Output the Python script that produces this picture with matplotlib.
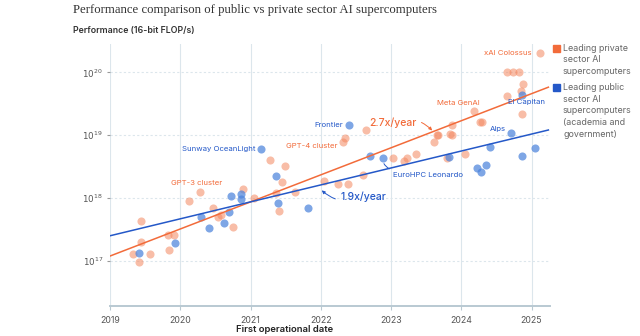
import matplotlib.pyplot as plt
import numpy as np

plt.rcParams['font.family'] = ['Inter', 'DejaVu Sans']

# --- data (first operational date as decimal year, 16-bit FLOP/s) ---
private_year = [2019.445, 2019.445, 2019.327, 2019.407, 2019.563, 2019.819, 2019.905, 2019.839,
                2020.128, 2020.275, 2020.459, 2020.54, 2020.575, 2020.75, 2020.90, 2021.043,
                2021.366, 2021.404, 2021.451, 2021.632, 2021.28, 2021.484, 2022.048, 2022.252,
                2022.39, 2022.607, 2022.347, 2022.314, 2022.65, 2023.026, 2023.19, 2023.225,
                2023.361, 2023.617, 2023.651, 2023.674, 2023.84, 2023.873, 2023.865, 2023.794,
                2024.058, 2024.18, 2024.272, 2024.30, 2024.656, 2024.741, 2024.822, 2024.875,
                2024.647, 2024.855, 2024.861, 2025.121]
private_perf = [4.3e17, 2.0e17, 1.3e17, 9.8e16, 1.3e17, 2.6e17, 2.6e17, 1.5e17,
                9.1e17, 1.25e18, 7.0e17, 5.0e17, 5.4e17, 3.5e17, 1.4e18, 1.0e18,
                1.2e18, 6.3e17, 1.8e18, 1.25e18, 4.0e18, 3.2e18, 1.9e18, 1.7e18,
                1.7e18, 2.3e18, 9.1e18, 7.8e18, 1.2e19, 4.3e18, 3.9e18, 4.3e18,
                5.0e18, 7.9e18, 1.0e19, 1.0e19, 1.05e19, 1.0e19, 1.43e19, 4.4e18,
                5.0e18, 2.45e19, 1.64e19, 1.64e19, 1.0e20, 1.0e20, 1.0e20, 6.6e19,
                4.2e19, 5.0e19, 2.2e19, 2.0e20]

public_year = [2019.407, 2019.929, 2020.289, 2020.403, 2020.622, 2020.697, 2020.718, 2020.863,
               2020.863, 2021.148, 2021.366, 2021.394, 2021.821, 2022.404, 2022.696, 2022.88,
               2023.83, 2024.229, 2024.275, 2024.356, 2024.407, 2024.704, 2024.869, 2024.869,
               2025.045]
public_perf = [1.32e17, 1.93e17, 5.06e17, 3.38e17, 3.97e17, 5.94e17, 1.08e18, 1.16e18,
               9.86e17, 6.0e18, 2.27e18, 8.5e17, 7.0e17, 1.47e19, 4.6e18, 4.3e18,
               4.5e18, 3.04e18, 2.57e18, 3.38e18, 6.5e18, 1.08e19, 4.36e19, 4.6e18,
               6.2e18]

# trend lines (value at each end year)
fit_years = [2019.0, 2025.24]
private_fit = [1.2e17, 5.8e19]
public_fit = [2.52e17, 1.21e19]

# labelled systems: (name, index, offset px, ha)
private_labels = [("xAI Colossus", 51, (-8, 0), "right"),
                  ("Meta GenAI", 41, (-16, 8), "center"),
                  ("GPT-4 cluster", 27, (-5, -3.5), "right"),
                  ("GPT-3 cluster", 9, (-3, 8.7), "center")]
public_labels = [("El Capitan", 22, (4, -7.3), "center"),
                 ("Alps", 21, (-5, 4), "right"),
                 ("Frontier", 13, (-6, 0), "right"),
                 ("Sunway OceanLight", 9, (-5, 0), "right")]

years = [2019, 2020, 2021, 2022, 2023, 2024, 2025]
decades = [17, 18, 19, 20]

orange = "#F26B3A"
orange_dot = "#F4875F"
blue = "#2458C8"
blue_dot = "#4D84DC"
grid_c = "#DCE6EC"

fig = plt.figure(figsize=(6.4, 3.36), dpi=100)
ax = fig.add_axes([110/640, 1-306/336, 440/640, 262/336])

ax.set_yscale("log")
ax.set_xlim(2019, 2025.263)
ax.set_ylim(10**16.285, 10**20.45)

for y in years:
    ax.axvline(y, color=grid_c, lw=0.8, zorder=0)
for d in decades:
    ax.axhline(10.0**d, color=grid_c, lw=0.8, ls=(0, (2, 2)), zorder=0)

ax.scatter(private_year, private_perf, s=34, color=orange_dot, alpha=0.55, lw=0, zorder=3)
ax.scatter(public_year, public_perf, s=34, color=blue_dot, alpha=0.72, lw=0, zorder=3)

ax.plot(fit_years, private_fit, color=orange, lw=1.1, zorder=4)
ax.plot(fit_years, public_fit, color=blue, lw=1.1, zorder=4)

def px(o):
    return (o[0]*0.72, o[1]*0.72)

for name, i, off, ha in private_labels:
    ax.annotate(name, (private_year[i], private_perf[i]), xytext=px(off), textcoords="offset points",
                ha=ha, va="center", fontsize=5.6, color=orange, zorder=5)
for name, i, off, ha in public_labels:
    ax.annotate(name, (public_year[i], public_perf[i]), xytext=px(off), textcoords="offset points",
                ha=ha, va="center", fontsize=5.6, color=blue, zorder=5)

# EuroHPC Leonardo with connector
ax.annotate("EuroHPC Leonardo", (public_year[15], public_perf[15]), xytext=px((10.5, -17)),
            textcoords="offset points", ha="left", va="center", fontsize=5.6, color=blue,
            arrowprops=dict(arrowstyle="-", color=blue, lw=0.7, shrinkA=1, shrinkB=4,
                            connectionstyle="angle3,angleA=0,angleB=90"))

# growth-rate labels
def on_line(fit, yr):
    t = (yr - fit_years[0]) / (fit_years[1] - fit_years[0])
    return 10 ** (np.log10(fit[0]) + t * (np.log10(fit[1]) - np.log10(fit[0])))

ax.annotate("2.7x/year", (2023.6, on_line(private_fit, 2023.6)), xytext=px((-17, 9)),
            textcoords="offset points", ha="right", va="center", fontsize=7.5,
            fontweight="medium", color=orange,
            arrowprops=dict(arrowstyle="-|>,head_length=0.25,head_width=0.12", color=orange, lw=0.7,
                            shrinkA=2, shrinkB=1, connectionstyle="arc3,rad=-0.35"))
ax.annotate("1.9x/year", (2022.0, on_line(public_fit, 2022.0) * 0.85), xytext=px((20, -7)),
            textcoords="offset points", ha="left", va="center", fontsize=7.5,
            fontweight="medium", color=blue,
            arrowprops=dict(arrowstyle="-|>,head_length=0.25,head_width=0.12", color=blue, lw=0.7,
                            shrinkA=2, shrinkB=1, connectionstyle="arc3,rad=-0.35"))

ax.set_xticks(years)
ax.set_xticklabels([str(y) for y in years], fontsize=6.3, color="#555555")
ax.set_yticks([10.0**d for d in decades])
ax.set_yticklabels([r"$10^{%d}$" % d for d in decades], fontsize=6.3, color="#555555")
ax.yaxis.set_minor_locator(plt.NullLocator())
ax.tick_params(axis="x", length=3, color="#B9C9D2", pad=4)
ax.tick_params(axis="y", length=2, color="#999999", pad=3)
for s in ["top", "right", "left"]:
    ax.spines[s].set_visible(False)
ax.spines["bottom"].set_color("#B9C9D2")
ax.spines["bottom"].set_linewidth(1.4)

fig.text(73/640, 1-10/336, "Performance comparison of public vs private sector AI supercomputers",
         family=["Liberation Serif", "DejaVu Serif"], fontsize=9.2, color="#333333", va="center")
fig.text(73/640, 1-31/336, "Performance (16-bit FLOP/s)", fontsize=6.3, fontweight="semibold",
         color="#333333", va="center")
fig.text(284.5/640, 1-329/336, "First operational date", fontsize=6.8, fontweight="semibold",
         color="#222222", ha="center", va="center")

# legend
legend_items = [(orange, ["Leading private", "sector AI", "supercomputers"], 48.3),
                (blue, ["Leading public", "sector AI", "supercomputers", "(academia and", "government)"], 87.3)]
for c, lines, y0 in legend_items:
    fig.patches.append(plt.Rectangle((552.5/640, 1-(y0+3.8)/336), 7.5/640, 7.5/336,
                                     transform=fig.transFigure, color=c, figure=fig))
    for k, line in enumerate(lines):
        fig.text(563/640, 1-(y0+k*11.7)/336, line, fontsize=6.4, color="#666666", va="center")

fig.savefig("out.png", dpi=100)
